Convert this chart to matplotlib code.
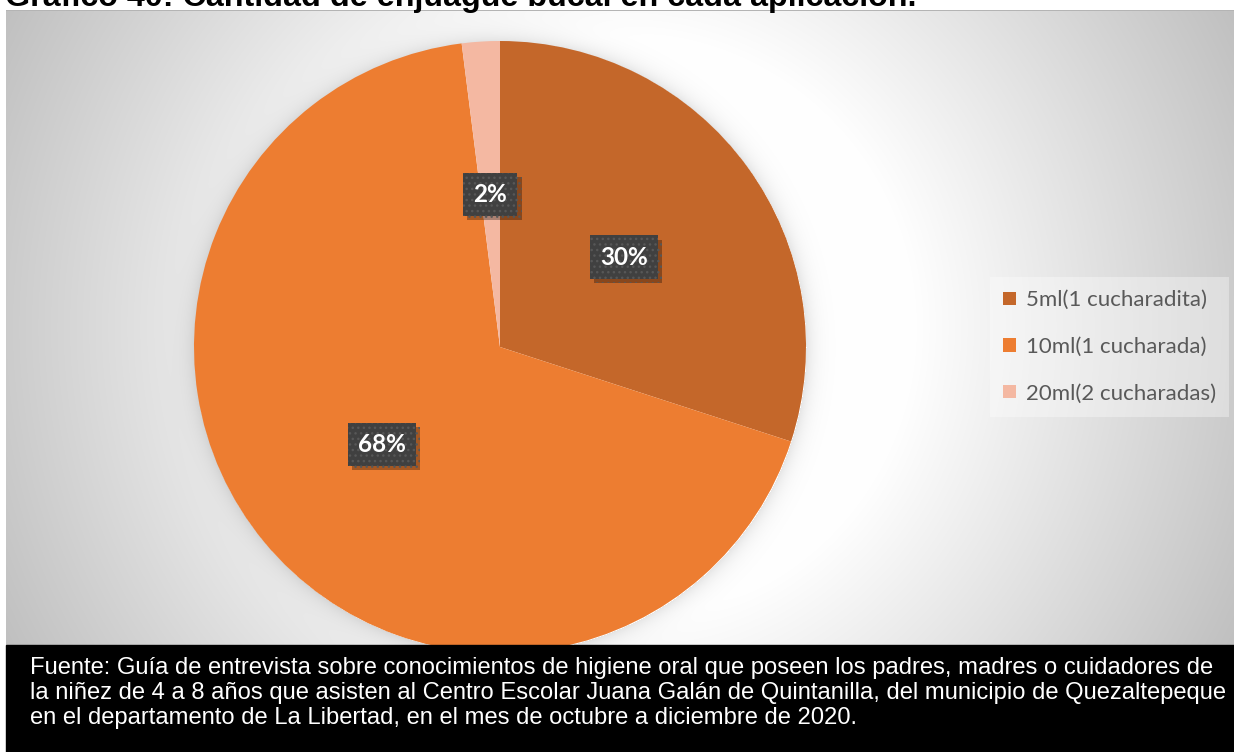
import numpy as np
import matplotlib

matplotlib.use("Agg")
import matplotlib.pyplot as plt
import matplotlib.patheffects as pe
from matplotlib.patches import Rectangle

# enjuague bucal por aplicación (%)
categorias = ["5ml(1 cucharadita)", "10ml(1 cucharada)", "20ml(2 cucharadas)"]
porcentajes = [30, 68, 2]
colores = ["#c4672a", "#ed7d31", "#f4b8a2"]

titulo = "Gráfico 40: Cantidad de enjuague bucal en cada aplicación."
fuente = (
    "Fuente: Guía de entrevista sobre conocimientos de higiene oral que poseen los padres, madres o cuidadores de\n"
    "la niñez de 4 a 8 años que asisten al Centro Escolar Juana Galán de Quintanilla, del municipio de Quezaltepeque\n"
    "en el departamento de La Libertad, en el mes de octubre a diciembre de 2020."
)

W, H = 1234, 752
PIE_CX, PIE_CY, PIE_R = 500, 347, 306   # pixel coords, y from top
AREA_X0, AREA_Y0, AREA_Y1 = 6, 10, 645  # chart area box

fig = plt.figure(figsize=(W / 100, H / 100), dpi=100)

# radial grey background with a soft shadow around the pie
yy, xx = np.mgrid[0:H, 0:W].astype(float)
d = np.hypot(xx - 620, yy - 327)
g = 255 - 63 * np.clip((d - 290) / 400, 0, 1)
dp = np.hypot(xx - PIE_CX, yy - PIE_CY) - PIE_R
g *= 1 - np.where(dp > 0, 0.10 * np.exp(-dp / 9), 0)
inside = (xx >= AREA_X0) & (yy >= AREA_Y0) & (yy <= AREA_Y1)
g = np.where(inside, g, 255)
g[AREA_Y0, AREA_X0:] = 180
img = np.dstack([g, g, g]).astype(np.uint8)
fig.figimage(img, xo=0, yo=0, origin="upper", zorder=-1)

ax = fig.add_axes([0, 0, 1, 1], zorder=1)
ax.patch.set_alpha(0)
wedges, _, pcts = ax.pie(
    porcentajes,
    colors=colores,
    startangle=90,
    counterclock=False,
    center=(PIE_CX, H - PIE_CY),
    radius=PIE_R,
    autopct="%1.0f%%",
    pctdistance=0.5,
    wedgeprops=dict(linewidth=0),
    frame=True,
)
ax.set_xlim(0, W)
ax.set_ylim(0, H)
ax.set_aspect("auto")
ax.axis("off")

# dark dotted label boxes with a drop shadow
for t in pcts:
    t.set(color="white", fontsize=17.5, fontweight="bold", family="Lato", zorder=4)
    t.set_bbox(dict(boxstyle="square,pad=0.42", fc="#404040", ec="#575757", lw=0, hatch="..."))
    t.get_bbox_patch().set_path_effects(
        [pe.SimplePatchShadow(offset=(3, -3), shadow_rgbFace="black", alpha=0.3), pe.Normal()]
    )

leg = ax.legend(
    wedges, categorias,
    loc="center left",
    bbox_to_anchor=(990 / W, 1 - 347 / H),
    bbox_transform=fig.transFigure,
    frameon=True, fancybox=False,
    facecolor="white", framealpha=0.35, edgecolor="none",
    prop=dict(family="Lato", size=16),
    labelcolor="#595959",
    handlelength=0.55, handleheight=0.55, handletextpad=0.45,
    labelspacing=1.2, borderpad=0.6, borderaxespad=0,
)

fig.text(5 / W, 1 - 6 / H, titulo, fontsize=23.2, fontweight="bold",
         family="Liberation Sans", va="baseline", ha="left")

fig.add_artist(Rectangle((AREA_X0 / W, 0), 1, (H - AREA_Y1) / H,
                         transform=fig.transFigure, color="black", zorder=5))
fig.text(30 / W, 1 - 657 / H, fuente, color="white", fontsize=17.1,
         family="Liberation Sans", va="top", ha="left", linespacing=1.18, zorder=6)

fig.savefig("out.png", dpi=100)
